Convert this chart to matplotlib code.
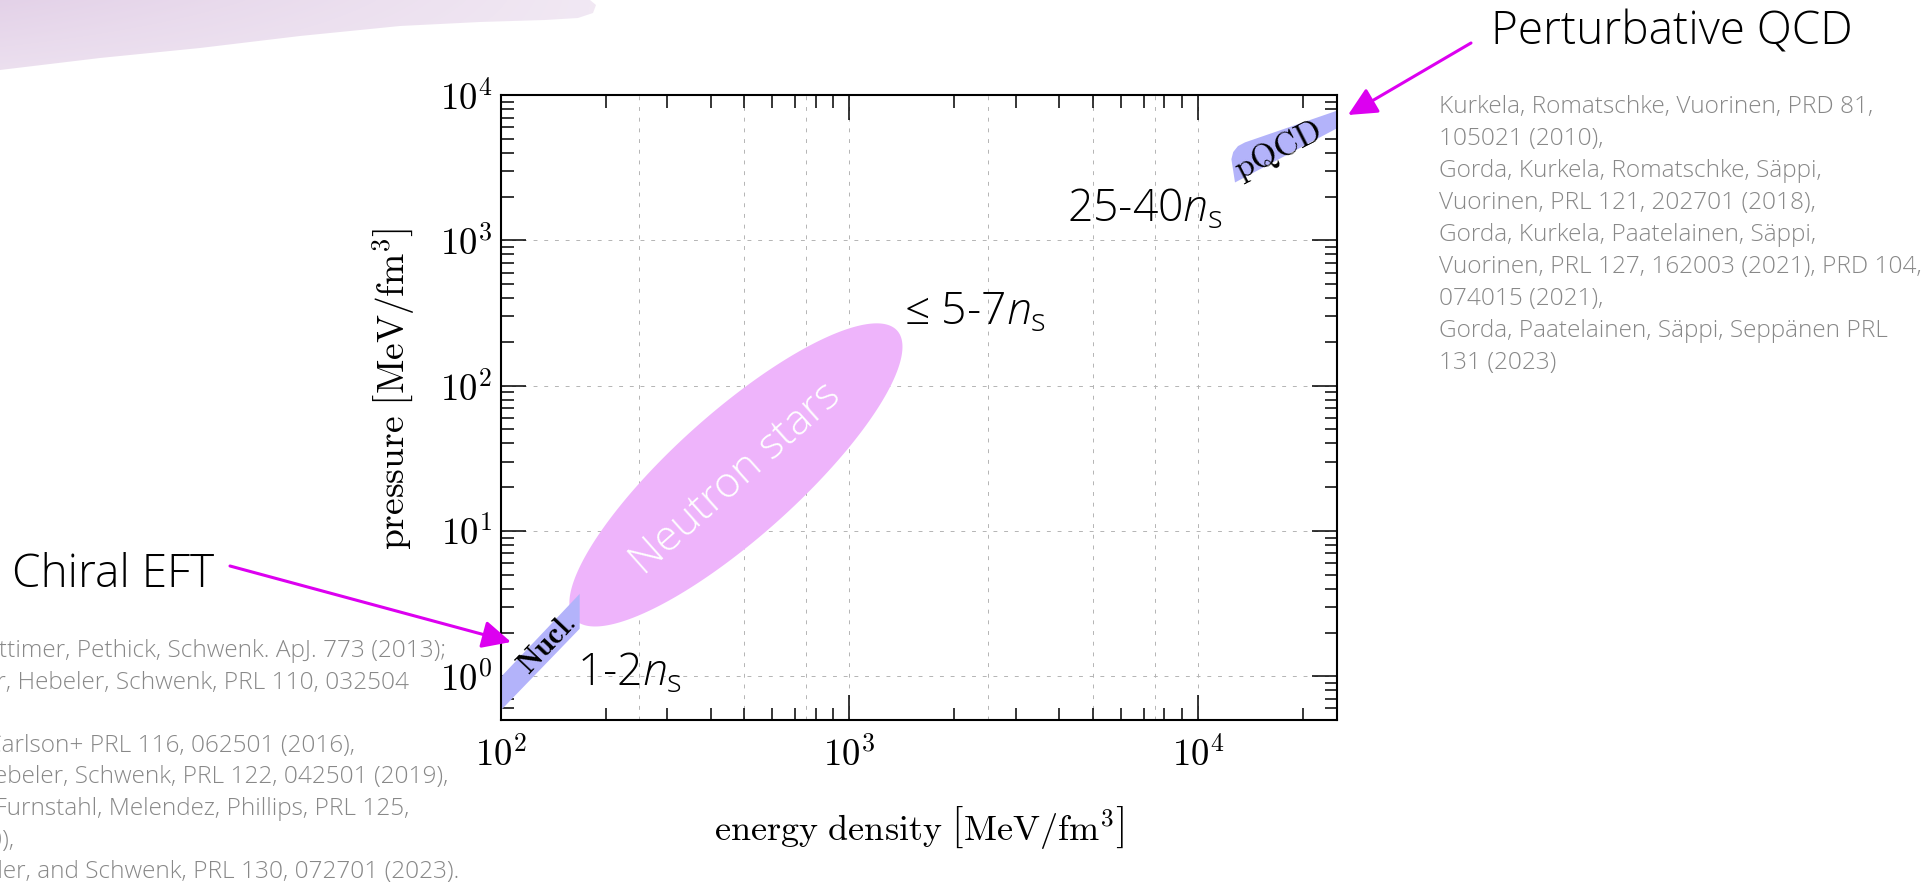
import numpy as np
import matplotlib
matplotlib.use("Agg")
import matplotlib.pyplot as plt
from matplotlib.patches import Polygon, FancyArrowPatch
from matplotlib.ticker import LogLocator, NullFormatter, FuncFormatter

W, H = 1927, 886

# ---- axis ranges -------------------------------------------------------
eps_lim = (100, 25000)      # energy density [MeV/fm^3]
p_lim = (0.5, 1.0e4)        # pressure [MeV/fm^3]

# ---- nuclear theory (chiral EFT) band ----------------------------------
nucl_eps = [100, 168]
nucl_p_low = [0.59, 2.14]
nucl_p_high = [1.0, 3.72]
nucl_label_eps = 136

# ---- perturbative QCD band outline -------------------------------------
pqcd_eps = [12750, 25000, 25000, 13620, 13000, 12600, 12450]
pqcd_p = [2500, 5900, 7800, 4720, 4450, 4050, 3620]
pqcd_label = (16900, 4150)

# ---- neutron-star region: ends of the long axis, width / length --------
ns_eps_ends = [163, 1371]
ns_p_ends = [2.47, 239]
ns_aspect = 0.288

# ---- reference grid ----------------------------------------------------
grid_eps = [250, 500, 750, 1000, 2500, 5000, 7500, 10000]
grid_p = [1, 10, 100, 1000]

# ---- density annotations -----------------------------------------------
density_labels = [r"1-2$n_{\mathrm{s}}$", r"≤ 5-7$n_{\mathrm{s}}$", r"25-40$n_{\mathrm{s}}$"]

refs_pqcd = [
    "Kurkela, Romatschke, Vuorinen, PRD 81,",
    "105021 (2010),",
    "Gorda, Kurkela, Romatschke, Säppi,",
    "Vuorinen, PRL 121, 202701 (2018),",
    "Gorda, Kurkela, Paatelainen, Säppi,",
    "Vuorinen, PRL 127, 162003 (2021), PRD 104,",
    "074015 (2021),",
    "Gorda, Paatelainen, Säppi, Seppänen PRL",
    "131 (2023)",
]
refs_ceft = [
    "Hebeler, Lattimer, Pethick, Schwenk. ApJ. 773 (2013);",
    "Tews, Krüger, Hebeler, Schwenk, PRL 110, 032504",
    "Lynn, Tews, Carlson+ PRL 116, 062501 (2016),",
    "Drischler, Hebeler, Schwenk, PRL 122, 042501 (2019),",
    "Drischler, Furnstahl, Melendez, Phillips, PRL 125,",
    "202702 (2020),",
    "Keller, Hebeler, and Schwenk, PRL 130, 072701 (2023).",
]
refs_ceft_right = [446, 409, 355, 448, 409, 14, 459]
refs_ceft_row = [0, 1, 3, 4, 5, 6, 7]

SANS = ["Open Sans", "DejaVu Sans"]
GRAY = "#888888"
MAGENTA = "#dc00f0"
PINK = "#eeb4fb"
BLUE = "#b3b3fa"
GRID = "#b4b4b4"

plt.rcParams["mathtext.fontset"] = "cm"
plt.rcParams["mathtext.rm"] = "Open Sans:light"
plt.rcParams["mathtext.it"] = "Open Sans:light:italic"
plt.rcParams["mathtext.bf"] = "Open Sans:bold"


def P(x, y):
    """Pixel position (from top-left) to figure fraction."""
    return (x / W, 1 - y / H)


def decade_label(v, pos):
    return r"$10^{%d}$" % int(round(np.log10(v)))


fig = plt.figure(figsize=(W / 100, H / 100), dpi=100)
fig.patch.set_facecolor("white")

# ---- watercolour wash in the top-left corner ---------------------------
bg = fig.add_axes([0, 0, 1, 1], zorder=-10)
wash_x = [0, 590, 596, 593, 578, 545, 480, 400, 300, 200, 100, 0]
wash_y = [0, 0, 5, 13, 18, 20, 22, 26, 36, 48, 58, 70]
wash = Polygon(np.column_stack([wash_x, wash_y]), closed=True, fc="none", ec="none")
bg.add_patch(wash)
gx, gy = np.meshgrid(np.linspace(0, 1, 300), np.linspace(0, 1, 40))
rgba = np.zeros((40, 300, 4))
rgba[..., 0], rgba[..., 1], rgba[..., 2] = 0.84, 0.74, 0.87
rgba[..., 3] = 0.68 - 0.34 * gx - 0.22 * gy * (1 - gx)
img = bg.imshow(rgba, extent=(0, 600, 75, 0), aspect="auto", interpolation="bilinear")
img.set_clip_path(wash)
bg.set_xlim(0, W)
bg.set_ylim(H, 0)
bg.axis("off")

# ---- main axes -----------------------------------------------------------
ax = fig.add_axes([500.6 / W, 1 - 720 / H, 836.4 / W, 625 / H])
ax.set_xscale("log")
ax.set_yscale("log")
ax.set_xlim(*eps_lim)
ax.set_ylim(*p_lim)

for axis in (ax.xaxis, ax.yaxis):
    axis.set_major_locator(LogLocator(base=10, numticks=12))
    axis.set_major_formatter(FuncFormatter(decade_label))
    axis.set_minor_locator(LogLocator(base=10, subs=np.arange(2, 10), numticks=30))
    axis.set_minor_formatter(NullFormatter())

ax.tick_params(which="both", direction="in", top=True, right=True, width=1.1, colors="black")
ax.tick_params(which="major", length=18, labelsize=26.5)
ax.tick_params(which="minor", length=9)
ax.tick_params(axis="x", pad=12)
ax.tick_params(axis="y", pad=6)
for s in ax.spines.values():
    s.set_linewidth(1.5)

for e in grid_eps:
    ax.axvline(e, color=GRID, lw=0.7, ls=(0, (4, 7)), zorder=0.5)
for p in grid_p:
    ax.axhline(p, color=GRID, lw=0.7, ls=(0, (4, 7)), zorder=0.5)

ax.set_xlabel(r"$\mathrm{energy\ density}\ \left[\mathrm{MeV/fm}^{3}\right]$", fontsize=26)
ax.set_ylabel(r"$\mathrm{pressure}\ \left[\mathrm{MeV/fm}^{3}\right]$", fontsize=27)
ax.xaxis.set_label_coords(0.5, -0.135)
ax.yaxis.set_label_coords(-0.10, 0.53)

# ---- neutron-star ellipse (an ellipse on screen) -------------------------
A = ax.transData.transform((ns_eps_ends[0], ns_p_ends[0]))
B = ax.transData.transform((ns_eps_ends[1], ns_p_ends[1]))
C = (A + B) / 2
d = B - A
a = np.hypot(*d) / 2
b = a * ns_aspect
th = np.arctan2(d[1], d[0])
t = np.linspace(0, 2 * np.pi, 400)
ell = C + np.column_stack([
    a * np.cos(t) * np.cos(th) - b * np.sin(t) * np.sin(th),
    a * np.cos(t) * np.sin(th) + b * np.sin(t) * np.cos(th),
])
ell_data = ax.transData.inverted().transform(ell)
ax.fill(ell_data[:, 0], ell_data[:, 1], color=PINK, lw=0, zorder=1)
c_data = ax.transData.inverted().transform(C + np.array([0, -4]))
ax.text(c_data[0], c_data[1], "Neutron stars", color="white", fontsize=31,
        family=SANS, weight="light", rotation=np.degrees(th),
        rotation_mode="anchor", ha="center", va="center", zorder=3)

# ---- nuclear band -------------------------------------------------------
ax.fill_between(nucl_eps, nucl_p_low, nucl_p_high, color=BLUE, lw=0, zorder=2)
lx = np.log10(nucl_eps)
lp_mid = (np.log10(nucl_p_low) + np.log10(nucl_p_high)) / 2
nl_p = 10 ** np.interp(np.log10(nucl_label_eps), lx, lp_mid)
n0 = ax.transData.transform((nucl_eps[0], nucl_p_high[0]))
n1 = ax.transData.transform((nucl_eps[1], nucl_p_high[1]))
nucl_ang = np.degrees(np.arctan2(n1[1] - n0[1], n1[0] - n0[0]))
ax.text(nucl_label_eps, nl_p, r"$\mathbf{Nucl.}$", fontsize=22, math_fontfamily="cm",
        rotation=nucl_ang, rotation_mode="anchor", ha="center", va="center", zorder=3)

# ---- pQCD band -----------------------------------------------------------
ax.add_patch(Polygon(np.column_stack([pqcd_eps, pqcd_p]), closed=True,
                     fc=BLUE, ec="none", zorder=2, clip_on=True))
ax.text(*pqcd_label, r"$\mathrm{pQCD}$", fontsize=24, rotation=27,
        rotation_mode="anchor", ha="center", va="center", zorder=3)

# ---- density labels --------------------------------------------------
for txt, (x, y) in zip(density_labels, [(577, 686), (904, 325), (1067, 222)]):
    fig.text(*P(x, y), txt, fontsize=32, family=SANS, weight="light",
             math_fontfamily="custom", ha="left", va="baseline")

# ---- headings and references -------------------------------------------
fig.text(*P(12, 587), "Chiral EFT", fontsize=33, family=SANS, weight="light",
         ha="left", va="baseline")
fig.text(*P(1491, 44), "Perturbative QCD", fontsize=33, family=SANS, weight="light",
         ha="left", va="baseline")
for i, line in enumerate(refs_pqcd):
    fig.text(*P(1439, 113 + 32 * i), line, fontsize=17.6, family=SANS, weight="light",
             color=GRAY, ha="left", va="baseline")
for line, xr, row in zip(refs_ceft, refs_ceft_right, refs_ceft_row):
    fig.text(*P(xr, 657 + 31.6 * row), line, fontsize=17.6, family=SANS, weight="light",
             color=GRAY, ha="right", va="baseline")

# ---- arrows --------------------------------------------------------------
for tail, head in [((230, 566), (511, 642)), ((1471, 43), (1348, 115))]:
    fig.add_artist(FancyArrowPatch(P(*tail), P(*head), transform=fig.transFigure,
                                   arrowstyle="-|>,head_length=1.75,head_width=0.85",
                                   mutation_scale=10, color=MAGENTA, lw=2.2,
                                   shrinkA=0, shrinkB=0, zorder=10))

fig.savefig("out.png", dpi=100)
